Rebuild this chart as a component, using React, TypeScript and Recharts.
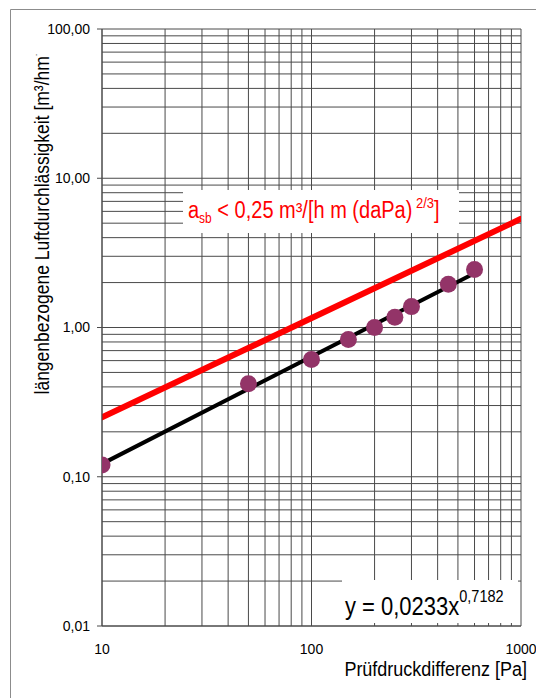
import { ComposedChart, XAxis, YAxis, Line, Scatter, ReferenceLine } from "recharts";

/* measured points: test pressure [Pa] vs. leakage per length [m³/hm] */
const pressure = [10, 50, 100, 150, 200, 250, 300, 450, 600];
const leakage = [0.12, 0.42, 0.61, 0.83, 1.0, 1.17, 1.38, 1.95, 2.45];

/* limit line a_sb = 0,25 and power trend line (end points) */
const limitX = [10, 1000];
const limitY = [0.25, 5.35];
const trendX = [10, 600];
const trendY = [0.122, 2.31];

/* axis ticks */
const xTicks = [10, 100, 1000];
const yTicks = [0.01, 0.1, 1, 10, 100];
const gridSteps = [2, 3, 4, 5, 6, 7, 8, 9];

const FONT = '"Liberation Sans", Arial, sans-serif';
const GRID = "#4a4a4a";

const points = pressure.map((x, i) => ({ x, y: leakage[i] }));
const limitData = limitX.map((x, i) => ({ x, y: limitY[i] }));
const trendData = trendX.map((x, i) => ({ x, y: trendY[i] }));

const xGrid = xTicks
  .slice(0, -1)
  .flatMap((d) => gridSteps.map((s) => +(d * s).toPrecision(3)))
  .concat(xTicks);
const yGrid = yTicks
  .slice(0, -1)
  .flatMap((d) => gridSteps.map((s) => +(d * s).toPrecision(3)))
  .concat(yTicks);

const fmtY = (v: number) => v.toFixed(2).replace(".", ",");

const Dot = (p: any) => <circle cx={p.cx} cy={p.cy} r={8.5} fill="#933468" />;

const App = () => {
  return (
    <div
      style={{
        position: "absolute",
        left: 0,
        top: 0,
        width: 536,
        height: 698,
        background: "#fff",
        fontFamily: FONT,
        overflow: "hidden",
      }}
    >
      <ComposedChart
        width={536}
        height={698}
        margin={{ top: 29, right: 15, bottom: 42, left: 12 }}
      >
        <XAxis
          dataKey="x"
          type="number"
          scale="log"
          domain={[10, 1000]}
          ticks={xTicks}
          height={30}
          tickLine={false}
          tickSize={6}
          tickMargin={12}
          axisLine={{ stroke: GRID }}
          tick={{ fontSize: 14, fill: "#000" }}
          allowDataOverflow
        />
        <YAxis
          type="number"
          scale="log"
          domain={[0.01, 100]}
          ticks={yTicks}
          width={90}
          tickSize={5}
          tickMargin={7}
          tickFormatter={fmtY}
          tickLine={{ stroke: GRID }}
          axisLine={{ stroke: GRID }}
          tick={{ fontSize: 14, fill: "#000" }}
          allowDataOverflow
        />
        {xGrid.map((v) => (
          <ReferenceLine key={"x" + v} x={v} stroke={GRID} strokeWidth={1} ifOverflow="visible" />
        ))}
        {yGrid.map((v) => (
          <ReferenceLine key={"y" + v} y={v} stroke={GRID} strokeWidth={1} ifOverflow="visible" />
        ))}
        <Line
          data={limitData}
          dataKey="y"
          stroke="#ff0000"
          strokeWidth={6}
          strokeLinecap="round"
          dot={false}
          activeDot={false}
          isAnimationActive={false}
        />
        <Scatter data={points} dataKey="y" shape={Dot} isAnimationActive={false} />
        <Line
          data={trendData}
          dataKey="y"
          stroke="#000"
          strokeWidth={4}
          strokeLinecap="round"
          dot={false}
          activeDot={false}
          isAnimationActive={false}
        />
      </ComposedChart>

      {/* frame, label boxes and titles */}
      <svg
        width={536}
        height={698}
        style={{ position: "absolute", left: 0, top: 0, pointerEvents: "none" }}
      >
        <path d="M10.5 698 V9.5 H536" fill="none" stroke="#8c8c8c" strokeWidth={1} />

        <rect x={183} y={190} width={276} height={43} fill="#fff" />
        <text transform="translate(188,218) scale(1,1.15)" fill="#ff0000" fontSize={20}>
          a
          <tspan fontSize={12} dy={4}>sb</tspan>
          <tspan dy={-4}> &lt; 0,25 m³/[h m (daPa)</tspan>
          <tspan fontSize={13} dy={-9}> 2/3</tspan>
          <tspan dy={9}>]</tspan>
        </text>

        <rect x={342} y={580} width={176} height={43} fill="#fff" />
        <text transform="translate(345,615) scale(1,1.15)" fill="#000" fontSize={22}>
          y = 0,0233x
          <tspan fontSize={14.5} dy={-11}>0,7182</tspan>
        </text>

        <text
          transform="translate(527,676) scale(1,1.1)"
          textAnchor="end"
          fill="#000"
          fontSize={18}
        >
          Prüfdruckdifferenz [Pa]
        </text>

        <text
          transform="translate(49,224) rotate(-90) scale(1,1.15)"
          textAnchor="middle"
          fill="#000"
          fontSize={17.5}
        >
          längenbezogene Luftdurchlässigkeit [m³/hm
          <tspan fontSize={8} dy={-9}>·</tspan>
        </text>
      </svg>
    </div>
  );
};

export default App;
